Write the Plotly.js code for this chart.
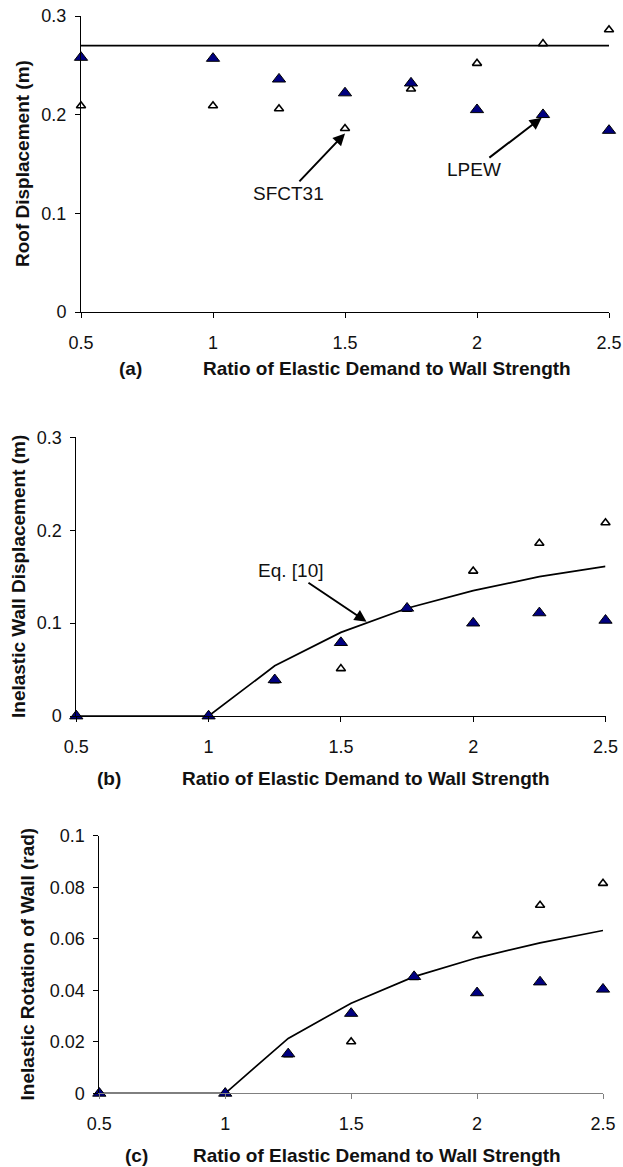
<!DOCTYPE html>
<html><head><meta charset="utf-8">
<script src="https://cdn.plot.ly/plotly-3.0.1.min.js"></script>
<style>html,body{margin:0;padding:0;background:#fff}</style>
</head><body><div id="chart" style="width:623px;height:1167px"></div>
<script>
// ---- data ----
const ratio = [0.5, 1, 1.25, 1.5, 1.75, 2, 2.25, 2.5];
const xTickVals = [0.5, 1, 1.5, 2, 2.5];
const xTickText = ['0.5', '1', '1.5', '2', '2.5'];

const roofLPEW   = [0.258, 0.257, 0.236, 0.222, 0.232, 0.205, 0.200, 0.184];
const roofSFCT31 = [0.209, 0.209, 0.206, 0.186, 0.226, 0.252, 0.272, 0.286];
const roofLimitX = [0.5, 2.5];
const roofLimit  = [0.27, 0.27];

const wallLPEW   = [0, 0, 0.039, 0.079, 0.116, 0.100, 0.111, 0.103];
const wallSFCT31 = [0, 0, 0.038, 0.051, 0.115, 0.156, 0.186, 0.208];
const wallEq10   = [0, 0, 0.054, 0.090, 0.116, 0.135, 0.150, 0.161];

const rotLPEW    = [0, 0, 0.0153, 0.031, 0.0453, 0.039, 0.0432, 0.0404];
const rotSFCT31  = [0, 0, 0.015, 0.020, 0.045, 0.0612, 0.073, 0.0815];
const rotEq10    = [0, 0, 0.0213, 0.035, 0.0453, 0.0526, 0.0584, 0.0632];

const yTitles = ['Roof Displacement (m)', 'Inelastic Wall Displacement (m)', 'Inelastic Rotation of Wall (rad)'];
const xTitle = 'Ratio of Elastic Demand to Wall Strength';
const panelTags = ['(a)', '(b)', '(c)'];

// ---- layout helpers ----
const W = 623, H = 1167;
const px = v => v / W;
const py = v => 1 - v / H;
const FONT = 'Liberation Sans, Arial, sans-serif';

const panels = [
  {xl: 81,   xr: 609,   yt: 16,    yb: 312,    yr: [0, 0.3], dt: 0.1,  xc: '#000',    tagX: 130, titX: 387, labY: 368,  ytX: 22, ytY: 164},
  {xl: 76.3, xr: 605.5, yt: 437.3, yb: 716,    yr: [0, 0.3], dt: 0.1,  xc: '#000',    tagX: 109, titX: 366, labY: 778,  ytX: 18, ytY: 577},
  {xl: 99.3, xr: 603,   yt: 835.7, yb: 1093.3, yr: [0, 0.1], dt: 0.02, xc: '#808080', tagX: 136, titX: 377, labY: 1155, ytX: 26.5, ytY: 964}
];

const series = [
  {line: {x: roofLimitX, y: roofLimit}, open: roofSFCT31, fill: roofLPEW},
  {line: {x: ratio, y: wallEq10}, open: wallSFCT31, fill: wallLPEW},
  {line: {x: ratio, y: rotEq10}, open: rotSFCT31, fill: rotLPEW}
];

const data = [];
const layout = {
  width: W, height: H, margin: {l: 0, r: 0, t: 0, b: 0},
  paper_bgcolor: '#fff', plot_bgcolor: '#fff', showlegend: false,
  font: {family: FONT, color: '#000'},
  annotations: []
};

panels.forEach((p, i) => {
  const n = i === 0 ? '' : String(i + 1);
  const xa = 'x' + n, ya = 'y' + n;
  const s = series[i];
  data.push({x: s.line.x, y: s.line.y, xaxis: xa, yaxis: ya, mode: 'lines',
    line: {color: '#000', width: 1.7}, cliponaxis: false, hoverinfo: 'skip'});
  data.push({x: ratio, y: s.open, xaxis: xa, yaxis: ya, mode: 'markers', cliponaxis: false,
    marker: {symbol: 'triangle-up', size: 8, color: '#fff', line: {color: '#000', width: 1.6}}});
  data.push({x: ratio, y: s.fill, xaxis: xa, yaxis: ya, mode: 'markers', cliponaxis: false,
    marker: {symbol: 'triangle-up', size: 11.5, color: '#000080', line: {color: '#000', width: 1}}});

  layout['xaxis' + n] = {
    domain: [px(p.xl), px(p.xr)], anchor: ya, range: [0.5, 2.5],
    tickmode: 'array', tickvals: xTickVals, ticktext: xTickText,
    showline: true, linecolor: p.xc, linewidth: 1, ticks: 'outside', ticklen: 5, tickcolor: p.xc,
    ticklabelstandoff: 9,
    showgrid: false, zeroline: false, automargin: false, fixedrange: true,
    tickfont: {family: FONT, size: 18, color: '#111'}
  };
  layout['yaxis' + n] = {
    domain: [py(p.yb), py(p.yt)], anchor: xa, range: p.yr, dtick: p.dt, tick0: 0,
    showline: true, linecolor: '#000', linewidth: 1, ticks: 'outside', ticklen: 5, tickcolor: '#000',
    ticklabelstandoff: 5,
    showgrid: false, zeroline: false, automargin: false, fixedrange: true,
    tickfont: {family: FONT, size: 18, color: '#111'}
  };
  const tf = {family: FONT, size: 19, color: '#111'};
  layout.annotations.push(
    {xref: 'paper', yref: 'paper', x: px(p.tagX), y: py(p.labY), text: '<b>' + panelTags[i] + '</b>', showarrow: false, font: tf, xanchor: 'center', yanchor: 'middle'},
    {xref: 'paper', yref: 'paper', x: px(p.titX), y: py(p.labY), text: '<b>' + xTitle + '</b>', showarrow: false, font: tf, xanchor: 'center', yanchor: 'middle'},
    {xref: 'paper', yref: 'paper', x: px(p.ytX), y: py(p.ytY), text: '<b>' + yTitles[i] + '</b>', showarrow: false, font: tf, textangle: -90, xanchor: 'center', yanchor: 'middle'}
  );
});

const af = {family: FONT, size: 19, color: '#111'};
layout.annotations.push(
  {xref: 'x', yref: 'y', x: 1.5, y: 0.181, ax: -57, ay: 60, text: 'SFCT31', font: af,
   showarrow: true, arrowhead: 2, arrowsize: 1.2, arrowwidth: 2, arrowcolor: '#000'},
  {xref: 'x', yref: 'y', x: 2.245, y: 0.197, ax: -68, ay: 52, text: 'LPEW', font: af,
   showarrow: true, arrowhead: 2, arrowsize: 1.2, arrowwidth: 2, arrowcolor: '#000'},
  {xref: 'x2', yref: 'y2', x: 1.597, y: 0.1015, ax: -76, ay: -51, text: 'Eq. [10]', font: af,
   showarrow: true, arrowhead: 2, arrowsize: 1.2, arrowwidth: 2, arrowcolor: '#000'}
);

Plotly.newPlot('chart', data, layout, {displayModeBar: false, staticPlot: true});
</script>
</body></html>
